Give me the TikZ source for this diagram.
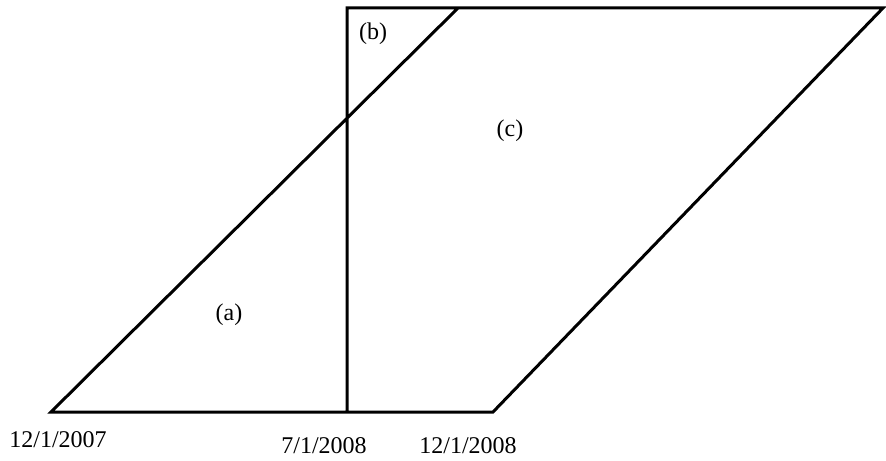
\documentclass[tikz,border=0pt]{standalone}
\usepackage{fontspec}
\setmainfont{Liberation Serif}
\usetikzlibrary{positioning}
\begin{document}
\begin{tikzpicture}[
  x=0.5pt, y=-0.5pt,
  edge/.style={line width=1.5pt, line join=miter},
  lab/.style={font=\fontsize{12}{14}\selectfont, inner sep=0pt}
]
\useasboundingbox (0,0) rectangle (886,460);
% corners of the region
\coordinate (bl) at (51,412);
\coordinate (br) at (493,412);
\coordinate (tl) at (458,8);
\coordinate (tr) at (883,8);
\coordinate (vb) at (347,412);
\coordinate (vt) at (347,8);
% outline and cut
\draw[edge] (vb) -- (vt) -- (tr) -- (br) -- (bl) -- (tl);
% dates below
\node[lab] (d1) at (58,440) {12/1/2007};
\node[lab] (d2) at (324,446) {7/1/2008};
\node[lab] (d3) at (468,446) {12/1/2008};
% parts
\node[lab] (pa) at (229,315) {(a)};
\node[lab] (pb) at (373,34) {(b)};
\node[lab] (pc) at (510,131) {(c)};
\end{tikzpicture}
\end{document}
